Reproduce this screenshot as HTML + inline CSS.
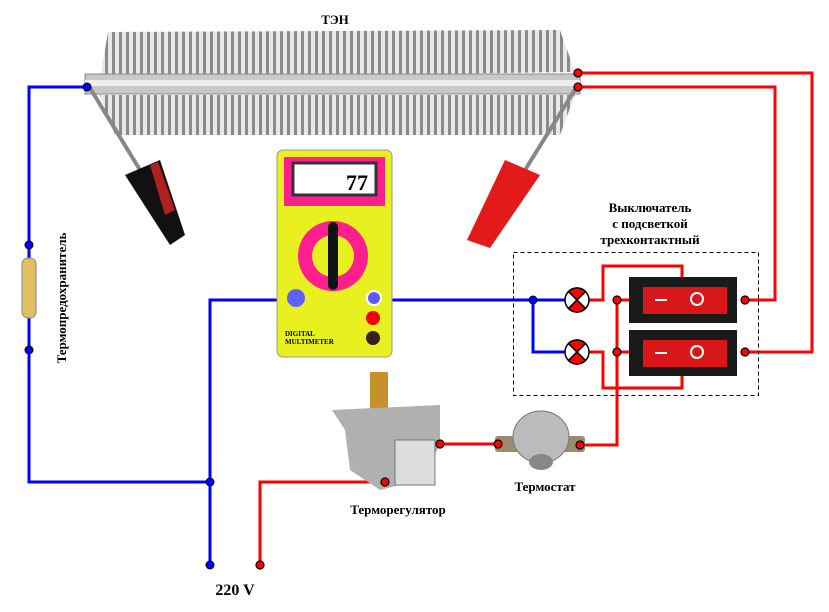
<!DOCTYPE html>
<html><head><meta charset="utf-8"><style>
html,body{margin:0;padding:0;background:#fff;width:829px;height:612px;overflow:hidden}
svg{display:block}
text{font-family:"Liberation Serif",serif;font-weight:bold}
</style></head><body>
<svg width="829" height="612" viewBox="0 0 829 612" xmlns="http://www.w3.org/2000/svg">
<defs>
<pattern id="fin" width="7" height="10" patternUnits="userSpaceOnUse">
<rect width="7" height="10" fill="#e8e8e8"/><rect x="0" width="3" height="10" fill="#8a8a8a"/>
</pattern>
</defs>
<text x="335" y="24" font-size="13" font-family="Liberation Sans" text-anchor="middle">ТЭН</text>
<!-- heater -->
<polygon points="108,32 560,30 575,72 100,78" fill="url(#fin)"/>
<polygon points="100,95 575,95 560,135 115,135" fill="url(#fin)"/>
<rect x="85" y="74" width="495" height="20" fill="#c8c8c8" stroke="#888"/>
<rect x="85" y="80" width="495" height="6" fill="#eee"/>
<!-- probes -->
<line x1="90" y1="88" x2="140" y2="170" stroke="#888" stroke-width="4"/>
<polygon points="125,175 160,160 185,235 170,245" fill="#111"/>
<polygon points="150,165 158,162 175,210 165,215" fill="#b02020"/>
<line x1="576" y1="88" x2="525" y2="170" stroke="#888" stroke-width="4"/>
<polygon points="505,160 540,175 490,248 467,240" fill="#e21a1a"/>
<!-- wires blue -->
<g fill="none" stroke="#0000ff" stroke-width="3">
<polyline points="87,87 29,87 29,482 210,482"/>
<polyline points="210,565 210,300 282,300"/>
<polyline points="388,300 533,300 565,300"/>
<polyline points="533,300 533,352 565,352"/>
</g>
<!-- wires red -->
<g fill="none" stroke="#ff0000" stroke-width="3">
<polyline points="589,300 603,300 603,266 682,266 682,280"/>
<polyline points="589,352 603,352 603,388 682,388 682,375"/>
<polyline points="617,300 617,445 582,445"/>
<line x1="617" y1="300" x2="630" y2="300"/><line x1="617" y1="352" x2="630" y2="352"/>
<polyline points="745,300 775,300 775,87 578,87"/>
<polyline points="745,352 812,352 812,73 578,73"/>
<polyline points="498,444 440,444"/>
<polyline points="385,482 260,482 260,565"/>
<polyline points="370,318 392,318"/>
</g>
<line x1="370" y1="338" x2="392" y2="338" stroke="#333" stroke-width="3"/>
<!-- dashed box -->
<rect x="513.5" y="252.5" width="245" height="143" fill="none" stroke="#000" stroke-dasharray="4,3"/>
<!-- lamps -->
<g stroke="#000" stroke-width="1.5">
<circle cx="577" cy="300" r="12" fill="#fff"/><path d="M577,300 L568.5,291.5 A12,12 0 0 1 585.5,291.5Z M577,300 L568.5,308.5 A12,12 0 0 0 585.5,308.5Z" fill="#f00"/>
<line x1="568.5" y1="291.5" x2="585.5" y2="308.5"/><line x1="585.5" y1="291.5" x2="568.5" y2="308.5"/>
<circle cx="577" cy="352" r="12" fill="#fff"/><path d="M577,352 L568.5,343.5 A12,12 0 0 1 585.5,343.5Z M577,352 L568.5,360.5 A12,12 0 0 0 585.5,360.5Z" fill="#f00"/>
<line x1="568.5" y1="343.5" x2="585.5" y2="360.5"/><line x1="585.5" y1="343.5" x2="568.5" y2="360.5"/>
</g>
<!-- switches -->
<rect x="629" y="277" width="108" height="46" fill="#1a1a1a"/>
<rect x="643" y="287" width="84" height="27" fill="#d81818"/>
<rect x="629" y="330" width="108" height="46" fill="#1a1a1a"/>
<rect x="643" y="340" width="84" height="27" fill="#d81818"/>
<g stroke="#fff" stroke-width="2" fill="none">
<line x1="655" y1="300" x2="667" y2="300"/><circle cx="697" cy="299" r="6"/>
<line x1="655" y1="353" x2="667" y2="353"/><circle cx="697" cy="352" r="6"/>
</g>
<!-- multimeter -->
<rect x="277" y="150" width="115" height="207" rx="6" fill="#e8f020" stroke="#999"/>
<rect x="284" y="157" width="101" height="49" fill="#ff1f8f"/>
<rect x="293" y="163" width="83" height="32" fill="#fff" stroke="#333" stroke-width="3"/>
<text x="368" y="190" font-size="22" font-weight="normal" text-anchor="end">77</text>
<circle cx="333" cy="256" r="35" fill="#ff1f8f"/><circle cx="333" cy="256" r="21" fill="#e8f020"/>
<rect x="328" y="222" width="10" height="68" rx="5" fill="#111"/>
<circle cx="296" cy="298" r="9" fill="#6060ff"/>
<circle cx="374" cy="298" r="7" fill="#5a5aff" stroke="#fff" stroke-width="2"/>
<circle cx="373" cy="318" r="7" fill="#e00"/><circle cx="373" cy="338" r="7" fill="#3a2020"/>
<text x="285" y="336" font-size="7" font-family="Liberation Sans" font-weight="normal">DIGITAL</text>
<text x="285" y="344" font-size="7" font-family="Liberation Sans" font-weight="normal">MULTIMETER</text>
<!-- fuse -->
<rect x="22" y="258" width="14" height="60" rx="6" fill="#e0c060" stroke="#888"/>
<!-- thermoregulator -->
<rect x="370" y="372" width="18" height="50" fill="#c8902a"/>
<polygon points="332,410 440,405 440,445 420,480 380,490 350,470 345,430" fill="#b0b0b0"/>
<rect x="395" y="440" width="40" height="45" fill="#ddd" stroke="#777"/>
<!-- thermostat -->
<rect x="495" y="436" width="90" height="16" rx="3" fill="#9a8a70"/>
<ellipse cx="541" cy="437" rx="28" ry="26" fill="#bbb" stroke="#777"/>
<ellipse cx="541" cy="462" rx="12" ry="8" fill="#888"/>
<!-- dots -->
<g fill="#0000ff" stroke="#000" stroke-width="1">
<circle cx="29" cy="245" r="4"/><circle cx="29" cy="350" r="4"/><circle cx="210" cy="482" r="4"/><circle cx="210" cy="565" r="4"/><circle cx="533" cy="300" r="4"/><circle cx="87" cy="87" r="4"/>
</g>
<g fill="#ff0000" stroke="#000" stroke-width="1.2">
<circle cx="617" cy="300" r="4"/><circle cx="617" cy="352" r="4"/><circle cx="745" cy="300" r="4"/><circle cx="745" cy="352" r="4"/>
<circle cx="578" cy="73" r="4"/><circle cx="578" cy="87" r="4"/><circle cx="580" cy="445" r="4"/><circle cx="498" cy="444" r="4"/>
<circle cx="440" cy="444" r="4"/><circle cx="385" cy="482" r="4"/><circle cx="260" cy="565" r="4"/>
</g>
<!-- labels -->
<text x="650" y="212" font-size="13" text-anchor="middle">Выключатель</text>
<text x="650" y="228" font-size="13" text-anchor="middle">с подсветкой</text>
<text x="650" y="244" font-size="13" text-anchor="middle">трехконтактный</text>
<text x="545" y="491" font-size="13" text-anchor="middle">Термостат</text>
<text x="398" y="514" font-size="13" text-anchor="middle">Терморегулятор</text>
<text x="235" y="595" font-size="16" text-anchor="middle">220 V</text>
<text transform="translate(66,298) rotate(-90)" font-size="13" text-anchor="middle">Термопредохранитель</text>
</svg>
</body></html>
